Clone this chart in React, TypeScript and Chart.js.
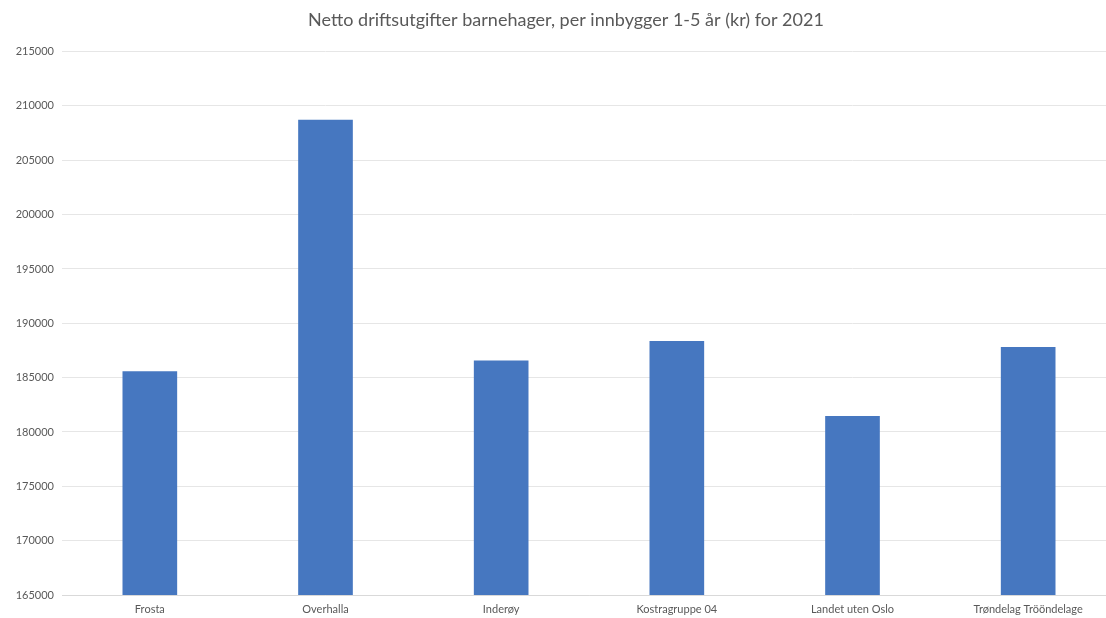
import React, { useEffect, useRef } from "react";
import { Chart, registerables } from "chart.js";

Chart.register(...registerables);

const categories = ["Frosta", "Overhalla", "Inderøy", "Kostragruppe 04", "Landet uten Oslo", "Trøndelag Trööndelage"];
const values = [185550, 208700, 186550, 188350, 181450, 187800];
const yMin = 165000;
const yMax = 215000;
const yStep = 5000;
const title = "Netto driftsutgifter barnehager, per innbygger 1-5 år (kr) for 2021";

export default function App() {
  const ref = useRef<HTMLCanvasElement | null>(null);
  useEffect(() => {
    document.body.style.margin = "0";
    const ctx = ref.current!.getContext("2d")!;
    Chart.defaults.font.family = "Lato, 'Open Sans', sans-serif";
    const chart = new Chart(ctx, {
      type: "bar",
      data: {
        labels: categories,
        datasets: [
          {
            data: values,
            backgroundColor: "#4677c0",
            barThickness: 54,
          },
        ],
      },
      options: {
        animation: false,
        responsive: false,
        layout: { padding: { left: 16, right: 0, top: 0, bottom: 0 } },
        plugins: {
          legend: { display: false },
          tooltip: { enabled: false },
          title: {
            display: true,
            text: title,
            color: "#595959",
            font: { size: 18, weight: "normal" },
            padding: { top: 9, bottom: 21 },
          },
        },
        scales: {
          x: {
            grid: { display: false, drawTicks: false },
            border: { color: "#d9d9d9" },
            ticks: { color: "#595959", font: { size: 11 }, padding: 8 },
            afterFit: (s: any) => {
              s.height = 23;
            },
          },
          y: {
            min: yMin,
            max: yMax,
            ticks: {
              stepSize: yStep,
              color: "#595959",
              font: { size: 11 },
              padding: 8,
              callback: (v: any) => String(v),
            },
            grid: { color: "#e6e6e6", drawTicks: false },
            border: { display: false },
            afterFit: (s: any) => {
              s.width = 46;
            },
          },
        },
      },
    });
    return () => chart.destroy();
  }, []);
  return (
    <div style={{ position: "fixed", left: 0, top: 0, width: 1106, height: 618, overflow: "hidden", background: "#fff" }}>
      <canvas ref={ref} width={1116} height={618} style={{ width: 1116, height: 618, display: "block" }} />
    </div>
  );
}
